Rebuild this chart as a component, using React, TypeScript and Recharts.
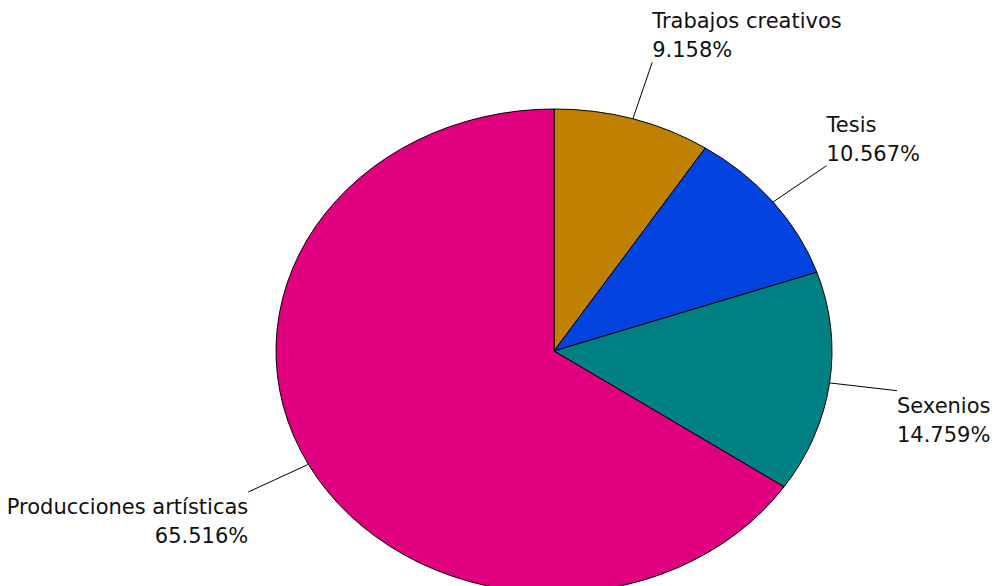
import { PieChart, Pie, Cell } from 'recharts';

const categories = ['Trabajos creativos', 'Tesis', 'Sexenios', 'Producciones artísticas'];
const shares = [9.158, 10.567, 14.759, 65.516];
const colors = ['#C08000', '#0343DF', '#008080', '#E0007F'];

const data = categories.map((name, i) => ({ name, value: shares[i] }));

const RX = 278;
const RY = 242;
const K = RY / RX;
const RAD = Math.PI / 180;
const FONT = '"DejaVu Sans", Verdana, sans-serif';

function EllipseSector(props: any) {
  const { cx, cy, outerRadius, startAngle, endAngle, fill } = props;
  const rx = outerRadius;
  const ry = outerRadius * K;
  const p = (a: number) => [cx + rx * Math.cos(a * RAD), cy - ry * Math.sin(a * RAD)];
  const [x1, y1] = p(startAngle);
  const [x2, y2] = p(endAngle);
  const large = Math.abs(endAngle - startAngle) > 180 ? 1 : 0;
  const sweep = startAngle > endAngle ? 1 : 0;
  const d = `M${cx},${cy} L${x1},${y1} A${rx},${ry} 0 ${large} ${sweep} ${x2},${y2} Z`;
  return <path d={d} fill={fill} stroke="#000" strokeWidth={1} />;
}

function renderLabel(props: any) {
  const { cx, cy, midAngle, outerRadius, index } = props;
  const c = Math.cos(midAngle * RAD);
  const s = Math.sin(midAngle * RAD);
  const ry = outerRadius * K;
  const sx = cx + outerRadius * c;
  const sy = cy - ry * s;
  const ex = cx + (outerRadius + 68) * c;
  const ey = cy - (ry + 59) * s;
  const right = c >= 0;
  const upper = ey < cy;
  const anchor = right ? 'start' : 'end';
  const y1 = upper ? ey - 34 : ey + 22;
  const y2 = upper ? ey - 5 : ey + 51;
  return (
    <g>
      <line x1={sx} y1={sy} x2={ex} y2={ey} stroke="#000" strokeWidth={1} />
      <text x={ex} y={y1} textAnchor={anchor} fontFamily={FONT} fontSize={21} fill="#111">
        {categories[index]}
      </text>
      <text x={ex} y={y2} textAnchor={anchor} fontFamily={FONT} fontSize={21} fill="#111">
        {shares[index].toFixed(3)}%
      </text>
    </g>
  );
}

export default function App() {
  return (
    <div style={{ position: 'absolute', left: 0, top: 0, width: 995, height: 586, overflow: 'hidden', background: '#fff' }}>
      <PieChart width={995} height={586} margin={{ top: 0, right: 0, bottom: 0, left: 0 }}>
        <Pie
          data={data}
          dataKey="value"
          nameKey="name"
          cx={554}
          cy={351}
          outerRadius={RX}
          startAngle={90}
          endAngle={-270}
          shape={EllipseSector}
          label={renderLabel}
          labelLine={false}
          isAnimationActive={false}
        >
          {data.map((d, i) => (
            <Cell key={d.name} fill={colors[i]} />
          ))}
        </Pie>
      </PieChart>
    </div>
  );
}
